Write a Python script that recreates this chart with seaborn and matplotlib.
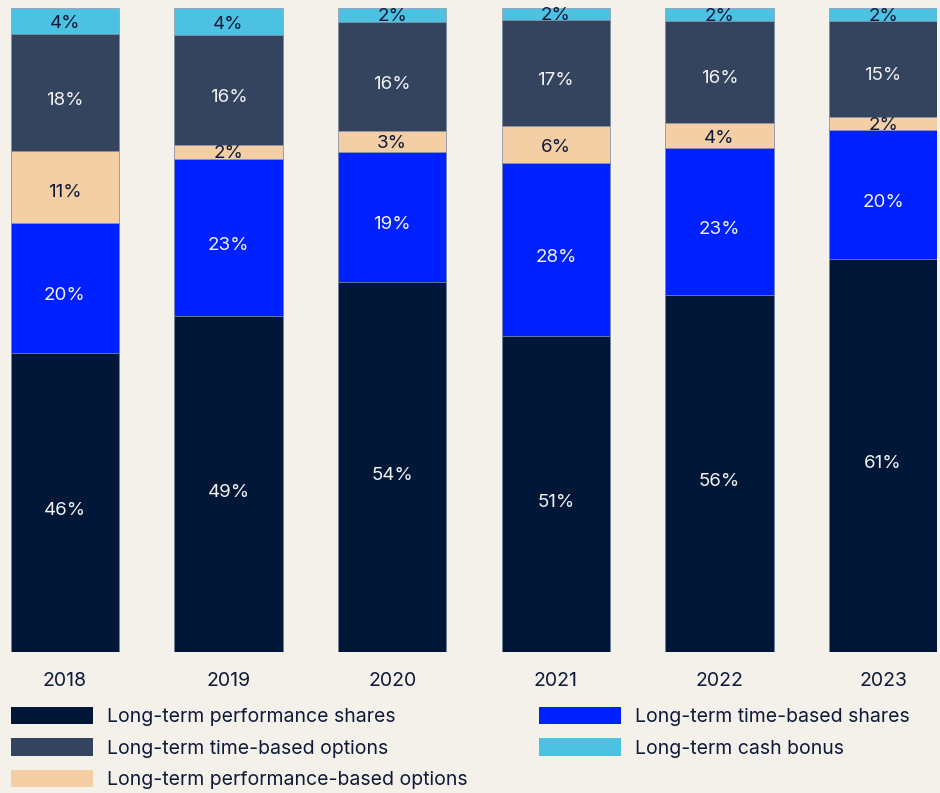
import matplotlib
matplotlib.use("Agg")
import matplotlib.pyplot as plt
from matplotlib.patches import Patch
import numpy as np
import pandas as pd
import seaborn as sns

# Long-term incentive mix by year (stated shares, in %)
years = ["2018", "2019", "2020", "2021", "2022", "2023"]
perf_shares = [46, 49, 54, 51, 56, 61]
time_shares = [20, 23, 19, 28, 23, 20]
perf_options = [11, 2, 3, 6, 4, 2]
time_options = [18, 16, 16, 17, 16, 15]
cash_bonus = [4, 4, 2, 2, 2, 2]

series_names = [
    "Long-term performance shares",
    "Long-term time-based shares",
    "Long-term performance-based options",
    "Long-term time-based options",
    "Long-term cash bonus",
]
series_values = [perf_shares, time_shares, perf_options, time_options, cash_bonus]
series_colors = ["#011738", "#0021FF", "#F4CEA5", "#34445F", "#4CC1E2"]
label_colors = ["#F2F2F2", "#F2F2F2", "#0E1A38", "#F2F2F2", "#0E1A38"]

BG = "#F4F1EA"
INK = "#0E1A38"

sns.set_theme(style="white")
plt.rcParams["font.family"] = ["Inter", "DejaVu Sans"]

vals = np.array(series_values, dtype=float)
# Each year's bar is scaled to a full 100% column
shares = vals / vals.sum(axis=0) * 100
cum = np.cumsum(shares, axis=0)

FIG_W, FIG_H = 940, 793
AX_H_PX = 644
fig = plt.figure(figsize=(FIG_W / 100, FIG_H / 100), dpi=100, facecolor=BG)
ax = fig.add_axes([11 / FIG_W, 141 / FIG_H, 926 / FIG_W, AX_H_PX / FIG_H])
ax.set_facecolor(BG)

# Overlay cumulative bars from the tallest (top segment) down to the base
for i in range(len(series_names) - 1, -1, -1):
    df = pd.DataFrame({"year": years, "top": cum[i]})
    sns.barplot(
        data=df, x="year", y="top", color=series_colors[i], width=0.66,
        edgecolor="#8F98A8", linewidth=0.5, saturation=1, ax=ax,
    )

# Segment value labels, nudged slightly below the segment middle
for i in range(len(series_names)):
    for j, yr in enumerate(years):
        center = cum[i, j] - shares[i, j] / 2
        seg_px = shares[i, j] / 100 * AX_H_PX
        drop_px = min(8.0, 0.06 * seg_px + 1.0)
        ax.annotate(f"{series_values[i][j]}%", xy=(j, center),
                    xytext=(0, -drop_px * 0.72), textcoords="offset points",
                    ha="center", va="center", fontsize=13.5,
                    color=label_colors[i])

ax.set_xlim(-0.329, 5.329)
ax.set_ylim(0, 100)
ax.set_xlabel("")
ax.set_ylabel("")
ax.set_yticks([])
ax.tick_params(axis="x", length=0, pad=14.5, labelsize=14, labelcolor=INK)
for s in ax.spines.values():
    s.set_visible(False)

# Legend: two columns, filled column-wise
order = [0, 3, 2, 1, 4]
handles = [Patch(facecolor=series_colors[k], edgecolor="none") for k in order]
labels = [series_names[k] for k in order]
fig.legend(
    handles, labels, loc="upper left", bbox_to_anchor=(11 / FIG_W, 1 - 707 / FIG_H),
    ncol=2, frameon=False, fontsize=14, labelcolor=INK,
    handlelength=4.22, handleheight=1.0, handletextpad=0.72,
    labelspacing=0.62, columnspacing=3.65, borderpad=0, borderaxespad=0,
)

fig.savefig("out.png", dpi=100, facecolor=BG)
